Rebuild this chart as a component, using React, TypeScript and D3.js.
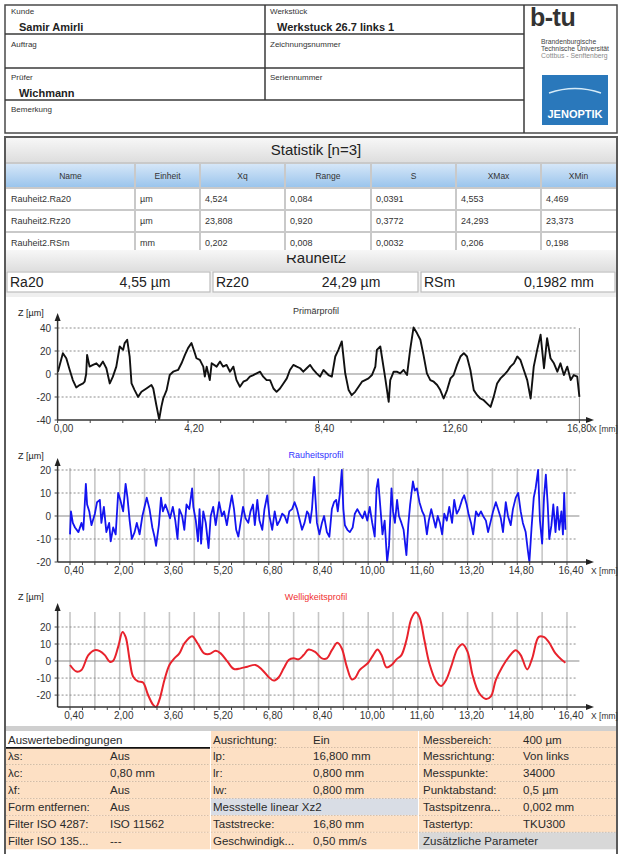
import * as React from "react";
import * as d3 from "d3";

const FONT = "'Liberation Sans', Arial, Helvetica, sans-serif";

// Kopfzeile
const headerLeftLabels = ["Kunde", "Auftrag", "Prüfer", "Bemerkung"];
const headerMidLabels = ["Werkstück", "Zeichnungsnummer", "Seriennummer"];
const customer = "Samir Amirli";
const workpiece = "Werkstuck 26.7 links 1";
const inspector = "Wichmann";
const uniLines = ["Brandenburgische", "Technische Universität", "Cottbus - Senftenberg"];

// Statistik
const statTitle = "Statistik [n=3]";
const statColumns = ["Name", "Einheit", "Xq", "Range", "S", "XMax", "XMin"];
const statRows = [
  ["Rauheit2.Ra20", "µm", "4,524", "0,084", "0,0391", "4,553", "4,469"],
  ["Rauheit2.Rz20", "µm", "23,808", "0,920", "0,3772", "24,293", "23,373"],
  ["Rauheit2.RSm", "mm", "0,202", "0,008", "0,0032", "0,206", "0,198"],
];
const resultTitle = "Rauheit2";
const paramNames = ["Ra20", "Rz20", "RSm"];
const paramValues = ["4,55 µm", "24,29 µm", "0,1982 mm"];

// Profile: [x in mm, z in µm]
const primaryProfile: [number, number][] = [
  [0.01, 2.0], [0.17, 18.1], [0.28, 13.7], [0.39, 3.5], [0.49, -5.3], [0.6, -11.7], [0.71, -9.6], [0.82, -8.2],
  [0.87, -6.7], [0.92, 0], [0.95, 16.6], [1.03, 6.4], [1.14, 7.9], [1.25, 9.3], [1.35, 6.4], [1.46, 10.8],
  [1.57, 5.0], [1.68, -8.2], [1.78, -2.3], [1.89, 6.4], [2.0, 23.9], [2.11, 21.0], [2.16, 26.9], [2.24, 29.8],
  [2.32, 15.2], [2.38, -8.2], [2.48, -14.0], [2.59, -19.9], [2.7, -15.5], [2.86, -12.6], [3.02, -9.6], [3.08, -12.6],
  [3.18, -27.2], [3.27, -39.5], [3.34, -28.6], [3.4, -21.3], [3.51, -14.0], [3.61, -0.9], [3.72, 2.0], [3.88, 3.5],
  [3.99, 9.3], [4.1, 16.6], [4.2, 22.5], [4.31, 26.9], [4.42, 18.1], [4.47, 13.7], [4.58, 12.3], [4.69, 6.4],
  [4.74, -2.3], [4.8, 6.4], [4.9, -5.3], [4.96, 9.3], [5.12, 6.4], [5.23, 10.8], [5.33, 6.4], [5.44, 7.9],
  [5.55, 2.0], [5.66, 6.4], [5.76, -5.3], [5.87, -11.1], [5.98, -6.7], [6.09, -5.3], [6.19, -2.3], [6.3, -0.9],
  [6.41, 0.6], [6.52, 2.0], [6.62, -2.3], [6.73, -5.3], [6.84, -5.3], [6.95, -12.6], [7.05, -15.5], [7.16, -12.6],
  [7.27, -8.2], [7.38, -3.8], [7.48, 3.5], [7.59, 7.9], [7.7, 6.4], [7.81, 5.0], [7.91, 2.0], [8.02, 5.0],
  [8.13, 7.9], [8.24, 3.5], [8.34, 0.6], [8.45, -2.3], [8.56, 3.5], [8.72, -0.9], [8.83, -2.3], [8.94, 15.2],
  [9.04, 21.0], [9.15, 28.3], [9.26, 0.6], [9.37, -14.0], [9.47, -18.4], [9.58, -15.5], [9.69, -11.1], [9.8, -6.7],
  [9.9, -5.3], [10.01, -3.8], [10.12, -0.9], [10.23, 6.4], [10.28, 21.0], [10.39, 23.9], [10.44, 15.2], [10.55, -3.8],
  [10.66, -24.2], [10.71, -5.3], [10.82, 2.0], [10.92, 2.0], [11.03, 0.6], [11.14, 3.5], [11.25, -0.9], [11.35, 21.0],
  [11.46, 40.5], [11.57, 35.6], [11.68, 29.8], [11.78, 16.6], [11.89, 0.6], [12.0, -5.3], [12.11, -6.7], [12.22, -9.6],
  [12.32, -14.0], [12.43, -21.3], [12.54, -14.0], [12.65, -3.8], [12.75, -0.9], [12.86, 7.9], [12.97, 15.2], [13.08, 18.1],
  [13.18, 15.2], [13.29, 3.5], [13.4, -14.0], [13.51, -18.4], [13.61, -21.3], [13.72, -22.8], [13.83, -25.7], [13.94, -28.6],
  [14.04, -19.9], [14.15, -8.2], [14.26, -3.8], [14.37, -0.9], [14.47, 2.0], [14.58, 6.4], [14.69, 9.3], [14.8, 15.2],
  [14.9, 12.3], [15.01, 3.5], [15.12, -5.3], [15.23, -21.3], [15.33, 6.4], [15.44, 21.0], [15.55, 34.2], [15.66, 5.0],
  [15.76, 31.2], [15.87, 13.7], [15.98, 9.3], [16.09, 2.0], [16.19, 9.3], [16.3, -0.9], [16.41, 6.4], [16.52, -5.3],
  [16.62, -0.9], [16.73, -2.3], [16.8, -19.9],
];

const roughnessProfile: [number, number][] = [
  [0.4, -8], [0.43, 2], [0.49, -3], [0.56, -5], [0.67, -7], [0.77, -3], [0.83, -6], [0.91, 14], [0.95, 5], [1.02, 2],
  [1.09, -4], [1.2, 1], [1.27, 6], [1.36, 7], [1.41, -3], [1.49, 4], [1.57, -7], [1.66, -3], [1.71, -11], [1.79, -5],
  [1.87, -8], [1.95, 10], [2.02, 7], [2.11, 2], [2.19, 14], [2.25, 8], [2.32, -2], [2.39, -10], [2.48, -7], [2.55, -3],
  [2.64, -8], [2.73, 0], [2.8, 4], [2.87, 8], [2.96, 3], [3.05, -5], [3.12, -9], [3.17, -13], [3.26, -4], [3.33, 8],
  [3.39, 2], [3.47, 5], [3.55, 2], [3.62, -1], [3.71, 4], [3.79, -2], [3.86, -10], [3.92, 3], [4.01, 0], [4.08, -6],
  [4.15, 5], [4.24, 3], [4.33, 12], [4.37, 4], [4.45, -2], [4.52, -11], [4.57, 3], [4.62, -12], [4.69, 2], [4.77, -3],
  [4.86, -14], [4.93, 0], [5.01, 4], [5.09, -4], [5.2, 6], [5.29, 0], [5.36, 2], [5.45, -4], [5.52, 2], [5.61, 9],
  [5.68, 3], [5.75, -6], [5.82, -9], [5.89, -3], [5.97, 4], [6.05, -1], [6.14, -3], [6.21, 2], [6.29, 5], [6.35, -4],
  [6.43, 7], [6.5, -2], [6.59, -6], [6.66, 3], [6.75, 9], [6.82, 0], [6.91, -6], [6.99, 2], [7.07, -4], [7.15, -2],
  [7.23, 1], [7.31, 0], [7.39, -3], [7.46, 2], [7.55, 3], [7.63, 6], [7.71, 3], [7.78, -1], [7.87, -6], [7.95, -3],
  [8.03, 2], [8.08, 1], [8.13, -3], [8.19, 3], [8.26, 17], [8.35, -3], [8.43, -8], [8.51, -3], [8.58, 0], [8.67, -7],
  [8.75, -9], [8.83, 3], [8.9, 6], [8.97, 7], [9.02, 2], [9.09, 10], [9.15, 20], [9.2, 3], [9.25, -4], [9.33, -6],
  [9.41, -7], [9.5, -5], [9.57, 1], [9.65, 3], [9.73, 1], [9.82, -1], [9.89, 2], [9.97, -2], [10.05, 4], [10.13, -3],
  [10.21, -9], [10.27, 12], [10.32, 16], [10.39, 4], [10.46, -8], [10.53, -2], [10.61, -20], [10.67, -13], [10.75, 12], [10.8, 2],
  [10.86, -3], [10.93, 7], [10.99, 0], [11.07, -3], [11.14, -6], [11.23, -17], [11.29, -4], [11.35, 5], [11.44, 15], [11.5, 11],
  [11.57, 12], [11.65, 6], [11.74, 2], [11.81, 0], [11.89, -8], [11.95, -2], [12.03, 3], [12.1, -1], [12.17, -5], [12.24, 0],
  [12.31, -3], [12.38, -8], [12.45, 1], [12.53, -2], [12.61, 4], [12.7, -3], [12.77, 7], [12.85, 1], [12.93, 3], [13.02, 7],
  [13.09, 9], [13.17, 5], [13.23, 1], [13.31, -3], [13.38, -8], [13.47, 2], [13.55, 0], [13.63, 2], [13.7, 0], [13.79, -2],
  [13.86, -7], [13.95, -2], [14.02, 2], [14.11, 6], [14.18, 3], [14.27, -1], [14.34, -7], [14.43, 6], [14.5, 0], [14.59, -4],
  [14.66, 3], [14.75, 8], [14.83, 10], [14.91, 2], [14.98, -3], [15.07, -7], [15.14, -15], [15.19, -20], [15.26, -5], [15.33, 8],
  [15.39, 12], [15.47, 20], [15.53, -2], [15.6, -12], [15.66, 8], [15.72, 18], [15.78, 5], [15.83, -10], [15.9, -4], [15.96, 5],
  [16.03, -7], [16.09, 4], [16.15, -6], [16.22, 2], [16.27, -8], [16.31, 10], [16.35, -6],
];

const wavinessProfile: [number, number][] = [
  [0.4, -2.3], [0.61, -6.2], [0.77, -5.2], [0.99, 3.5], [1.2, 6.4], [1.36, 5.8], [1.52, 3.5], [1.68, -0.4],
  [1.79, 0.2], [1.95, 8.3], [2.09, 17.1], [2.19, 14.2], [2.32, 0.6], [2.43, -9.1], [2.59, -12.0], [2.75, -12.6],
  [2.91, -19.8], [3.07, -25.6], [3.17, -27.0], [3.28, -22.7], [3.44, -11.1], [3.6, -2.3], [3.76, 1.6], [3.92, 4.5],
  [4.08, 10.3], [4.33, 14.6], [4.51, 10.3], [4.72, 4.5], [4.88, 4.1], [5.09, 6.0], [5.25, 4.5], [5.47, -0.4],
  [5.68, -4.7], [5.89, -4.3], [6.11, -3.3], [6.37, -2.3], [6.59, -5.2], [6.8, -9.5], [6.96, -11.5], [7.12, -9.5],
  [7.28, -4.3], [7.44, 0.6], [7.6, 1.6], [7.76, 1.0], [7.92, 3.5], [8.08, 6.8], [8.29, 5.4], [8.51, 1.6],
  [8.67, 1.6], [8.83, 6.4], [9.01, 10.7], [9.15, 7.4], [9.31, -3.3], [9.47, -10.7], [9.57, -10.1], [9.73, -5.2],
  [10.0, -1.0], [10.16, 3.5], [10.3, 6.8], [10.43, 3.5], [10.59, -3.7], [10.75, -2.3], [10.91, 1.0], [11.07, 3.5],
  [11.23, 12.2], [11.39, 24.9], [11.53, 28.7], [11.65, 25.8], [11.81, 12.2], [11.97, -1.4], [12.19, -12.0], [12.35, -14.6],
  [12.51, -11.1], [12.67, -3.3], [12.88, 7.4], [13.04, 9.9], [13.2, 5.4], [13.36, -8.2], [13.57, -18.8], [13.79, -22.3],
  [13.95, -20.8], [14.11, -11.1], [14.32, -3.3], [14.53, 2.5], [14.75, 6.4], [14.91, 3.5], [15.12, -4.9], [15.28, 1.6],
  [15.49, 14.2], [15.65, 14.2], [15.81, 11.3], [16.03, 4.5], [16.24, 0.6], [16.35, -1.0],
];

const primaryTicks = [0, 4.2, 8.4, 12.6, 16.8];
const filterTicks = [0.4, 2.0, 3.6, 5.2, 6.8, 8.4, 10.0, 11.6, 13.2, 14.8, 16.4];
const filterGrid = [0.4, 1.2, 2.0, 2.8, 3.6, 4.4, 5.2, 6.0, 6.8, 7.6, 8.4, 9.2, 10.0, 10.8, 11.6, 12.4, 13.2, 14.0, 14.8, 15.6, 16.4];
const primaryYTicks = [40, 20, 0, -20, -40];
const roughYTicks = [20, 10, 0, -10, -20];
const waveYTicks = [20, 10, 0, -10, -20];

// Auswertebedingungen
const condRows = [
  ["Auswertebedingungen", "", "Ausrichtung:", "Ein", "Messbereich:", "400 µm"],
  ["λs:", "Aus", "lp:", "16,800 mm", "Messrichtung:", "Von links"],
  ["λc:", "0,80 mm", "lr:", "0,800 mm", "Messpunkte:", "34000"],
  ["λf:", "Aus", "lw:", "0,800 mm", "Punktabstand:", "0,5 µm"],
  ["Form entfernen:", "Aus", "Messstelle linear Xz2", "", "Tastspitzenra...", "0,002 mm"],
  ["Filter ISO 4287:", "ISO 11562", "Taststrecke:", "16,80 mm", "Tastertyp:", "TKU300"],
  ["Filter ISO 135...", "---", "Geschwindigk...", "0,50 mm/s", "Zusätzliche Parameter", ""],
];

const fmt = (v: number) => d3.format(".2f")(v).replace(".", ",");

interface ChartSpec {
  data: [number, number][];
  color: string;
  width: number;
  smooth: boolean;
  title: string;
  titleColor: string;
  titleY: number;
  arrowTop: number;
  zLabelY: number;
  yDomain: [number, number];
  yRange: [number, number];
  yTicks: number[];
  dashed: number[];
  labels: number[];
  labelShift: number;
  grid: number[] | null;
  gridTop: number;
  minor: number[];
  rightLine: boolean;
}

function drawChart(svg: d3.Selection<SVGSVGElement, unknown, null, undefined>, s: ChartSpec) {
  const x = d3.scaleLinear([0, 16.8], [57.6, 579.4]);
  const y = d3.scaleLinear(s.yDomain, s.yRange);
  const axisY = s.yRange[0];
  const x0 = x(0);
  const g = svg.append("g").attr("font-family", FONT);

  if (s.grid) {
    g.selectAll(".vgrid")
      .data(s.grid)
      .join("line")
      .attr("class", "vgrid")
      .attr("x1", (d) => x(d))
      .attr("x2", (d) => x(d))
      .attr("y1", s.gridTop)
      .attr("y2", axisY)
      .attr("stroke", "#c6c6c6")
      .attr("stroke-width", 1.6);
  }
  g.selectAll(".hgrid")
    .data(s.dashed)
    .join("line")
    .attr("class", "hgrid")
    .attr("x1", x0)
    .attr("x2", x(16.8) - 2)
    .attr("y1", (d) => y(d))
    .attr("y2", (d) => y(d))
    .attr("stroke", "#8c8c8c")
    .attr("stroke-width", 1)
    .attr("stroke-dasharray", "2,2");
  g.append("line")
    .attr("x1", x0)
    .attr("x2", x(16.8))
    .attr("y1", y(0))
    .attr("y2", y(0))
    .attr("stroke", "#8a8a8a")
    .attr("stroke-width", 1.1);
  if (s.rightLine) {
    g.append("line")
      .attr("x1", x(16.8))
      .attr("x2", x(16.8))
      .attr("y1", y(s.yDomain[1]))
      .attr("y2", axisY)
      .attr("stroke", "#9a9a9a")
      .attr("stroke-width", 1);
  }

  // Profil
  const line = d3
    .line<[number, number]>()
    .x((d) => x(d[0]))
    .y((d) => y(d[1]))
    .curve(s.smooth ? d3.curveCatmullRom.alpha(0.5) : d3.curveLinear);
  g.append("path")
    .datum(s.data)
    .attr("d", line)
    .attr("fill", "none")
    .attr("stroke", s.color)
    .attr("stroke-width", s.width)
    .attr("stroke-linejoin", "round");

  // Achsen
  g.append("line")
    .attr("x1", x0)
    .attr("x2", 588)
    .attr("y1", axisY)
    .attr("y2", axisY)
    .attr("stroke", "#333")
    .attr("stroke-width", 1.5);
  g.append("path")
    .attr("d", `M594,${axisY}L586,${axisY - 3}L586,${axisY + 3}Z`)
    .attr("fill", "#222");
  g.append("line")
    .attr("x1", x0)
    .attr("x2", x0)
    .attr("y1", s.arrowTop + 6)
    .attr("y2", axisY)
    .attr("stroke", "#333")
    .attr("stroke-width", 1.5);
  g.append("path")
    .attr("d", `M${x0},${s.arrowTop}L${x0 - 3},${s.arrowTop + 8}L${x0 + 3},${s.arrowTop + 8}Z`)
    .attr("fill", "#222");

  g.selectAll(".minor")
    .data(s.minor)
    .join("line")
    .attr("class", "minor")
    .attr("x1", (d) => x(d))
    .attr("x2", (d) => x(d))
    .attr("y1", axisY)
    .attr("y2", axisY + 3)
    .attr("stroke", "#444")
    .attr("stroke-width", 1);

  g.selectAll(".ytick")
    .data(s.yTicks)
    .join("line")
    .attr("class", "ytick")
    .attr("x1", x0 - 3)
    .attr("x2", x0)
    .attr("y1", (d) => y(d))
    .attr("y2", (d) => y(d))
    .attr("stroke", "#444");
  g.selectAll(".ylab")
    .data(s.yTicks)
    .join("text")
    .attr("class", "ylab")
    .attr("x", 51)
    .attr("y", (d) => y(d) + 3.5)
    .attr("text-anchor", "end")
    .attr("font-size", 10)
    .attr("fill", "#333")
    .text((d) => String(d));

  g.selectAll(".xlab")
    .data(s.labels)
    .join("text")
    .attr("class", "xlab")
    .attr("x", (d) => x(d) + (d === 16.8 ? 0 : s.labelShift))
    .attr("y", axisY + 12)
    .attr("text-anchor", "middle")
    .attr("font-size", 10)
    .attr("fill", "#333")
    .text((d) => fmt(d));
  g.append("text")
    .attr("x", 591)
    .attr("y", axisY + 12)
    .attr("font-size", 8.5)
    .attr("fill", "#333")
    .text("X [mm]");

  g.append("text")
    .attr("x", 18)
    .attr("y", s.zLabelY)
    .attr("font-size", 9)
    .attr("fill", "#222")
    .text("Z [µm]");
  g.append("text")
    .attr("x", 316)
    .attr("y", s.titleY)
    .attr("text-anchor", "middle")
    .attr("font-size", 9)
    .attr("fill", s.titleColor)
    .text(s.title);
}

export default function App() {
  const ref = React.useRef<SVGSVGElement | null>(null);
  React.useEffect(() => {
    const svg = d3.select(ref.current as SVGSVGElement);
    svg.selectAll("*").remove();
    svg.attr("font-family", FONT);

    const defs = svg.append("defs");
    const blue = defs.append("linearGradient").attr("id", "hdrBlue").attr("x1", 0).attr("x2", 0).attr("y1", 0).attr("y2", 1);
    blue.append("stop").attr("offset", "0%").attr("stop-color", "#d8e8f8");
    blue.append("stop").attr("offset", "100%").attr("stop-color", "#98c3ec");
    const grey = defs.append("linearGradient").attr("id", "barGrey").attr("x1", 0).attr("x2", 0).attr("y1", 0).attr("y2", 1);
    grey.append("stop").attr("offset", "0%").attr("stop-color", "#f7f7f7");
    grey.append("stop").attr("offset", "100%").attr("stop-color", "#dedede");
    defs.append("clipPath").attr("id", "resClip").append("rect").attr("x", 0).attr("y", 255).attr("width", 620).attr("height", 16);

    svg.append("rect").attr("width", 620).attr("height", 854).attr("fill", "#fff");

    // ---------- Kopf ----------
    const head = svg.append("g");
    head.append("rect").attr("x", 5).attr("y", 5).attr("width", 612).attr("height", 128)
      .attr("fill", "#fff").attr("stroke", "#4a4a4a").attr("stroke-width", 1.5);
    const headLines = [
      [5, 34, 524, 34], [5, 68, 524, 68], [5, 100, 524, 100], [265, 5, 265, 100], [524, 5, 524, 133],
    ];
    head.selectAll(".hl").data(headLines).join("line").attr("class", "hl")
      .attr("x1", (d) => d[0]).attr("y1", (d) => d[1]).attr("x2", (d) => d[2]).attr("y2", (d) => d[3])
      .attr("stroke", "#3a3a3a").attr("stroke-width", 1.5);
    const leftY = [14, 47, 80, 112];
    head.selectAll(".ll").data(headerLeftLabels).join("text").attr("class", "ll")
      .attr("x", 11).attr("y", (_, i) => leftY[i]).attr("font-size", 8).attr("fill", "#333").text((d) => d);
    const midY = [14, 47, 80];
    head.selectAll(".ml").data(headerMidLabels).join("text").attr("class", "ml")
      .attr("x", 270).attr("y", (_, i) => midY[i]).attr("font-size", 8).attr("fill", "#333").text((d) => d);
    head.append("text").attr("x", 19).attr("y", 31).attr("font-size", 11).attr("font-weight", 700).attr("fill", "#222").text(customer);
    head.append("text").attr("x", 277).attr("y", 31).attr("font-size", 11).attr("font-weight", 700).attr("fill", "#222").text(workpiece);
    head.append("text").attr("x", 19).attr("y", 97).attr("font-size", 11).attr("font-weight", 700).attr("fill", "#222").text(inspector);

    // Logos
    head.append("text").attr("x", 530).attr("y", 26).attr("font-size", 25).attr("font-weight", 700)
      .attr("fill", "#333").attr("letter-spacing", -0.5).text("b-tu");
    head.selectAll(".uni").data(uniLines).join("text").attr("class", "uni")
      .attr("x", 541).attr("y", (_, i) => 44 + i * 7).attr("font-size", 6.8)
      .attr("fill", (_, i) => (i === 2 ? "#8a8a8a" : "#444")).text((d) => d);
    head.append("rect").attr("x", 542).attr("y", 75).attr("width", 66).attr("height", 50).attr("fill", "#2a78bb");
    head.append("path").attr("d", "M549,93 Q575,84 601,93").attr("fill", "none").attr("stroke", "#d6ebf8").attr("stroke-width", 1.4);
    head.append("text").attr("x", 575).attr("y", 118).attr("text-anchor", "middle").attr("font-size", 11)
      .attr("font-weight", 700).attr("fill", "#fff").text("JENOPTIK");

    // ---------- Rahmen unten ----------
    svg.append("rect").attr("x", 5).attr("y", 137).attr("width", 612).attr("height", 720)
      .attr("fill", "#fff").attr("stroke", "#5a5a5a").attr("stroke-width", 2);

    // ---------- Statistik ----------
    const st = svg.append("g");
    st.append("rect").attr("x", 6).attr("y", 138).attr("width", 610).attr("height", 24).attr("fill", "url(#barGrey)");
    st.append("text").attr("x", 316).attr("y", 155).attr("text-anchor", "middle").attr("font-size", 15)
      .attr("fill", "#222").text(statTitle);

    const colEdges = [6, 135, 200, 285, 371, 456, 541, 616];
    const rowEdges = [163, 188, 210, 232, 254];
    st.append("rect").attr("x", 6).attr("y", rowEdges[0]).attr("width", 610).attr("height", rowEdges[1] - rowEdges[0]).attr("fill", "url(#hdrBlue)");
    st.selectAll(".hdr").data(statColumns).join("text").attr("class", "hdr")
      .attr("x", (_, i) => (colEdges[i] + colEdges[i + 1]) / 2).attr("y", 179).attr("text-anchor", "middle")
      .attr("font-size", 8.5).attr("fill", "#333").text((d) => d);
    statRows.forEach((row, r) => {
      st.selectAll(`.cell${r}`).data(row).join("text").attr("class", `cell${r}`)
        .attr("x", (_, i) => colEdges[i] + 5).attr("y", (rowEdges[r + 1] + rowEdges[r + 2]) / 2 + 2.5)
        .attr("font-size", 9).attr("fill", "#333").text((d) => d);
    });
    st.selectAll(".rl").data(rowEdges).join("line").attr("class", "rl")
      .attr("x1", 6).attr("x2", 616).attr("y1", (d) => d).attr("y2", (d) => d)
      .attr("stroke", "#c9c9c9").attr("stroke-width", 2);
    st.selectAll(".cl").data(colEdges.slice(1, -1)).join("line").attr("class", "cl")
      .attr("x1", (d) => d).attr("x2", (d) => d).attr("y1", rowEdges[0]).attr("y2", rowEdges[4])
      .attr("stroke", "#c9c9c9").attr("stroke-width", 2);

    // Rauheit2 (oben vom Tabellenende verdeckt)
    st.append("rect").attr("x", 6).attr("y", 250).attr("width", 610).attr("height", 21).attr("fill", "url(#barGrey)");
    st.append("text").attr("x", 316).attr("y", 263).attr("text-anchor", "middle").attr("font-size", 15)
      .attr("fill", "#222").attr("clip-path", "url(#resClip)").text(resultTitle);
    st.append("rect").attr("x", 6).attr("y", 271).attr("width", 610).attr("height", 26).attr("fill", "#efefef");
    const boxX = [7, 213, 421];
    const boxW = [203, 205, 194];
    paramNames.forEach((name, i) => {
      st.append("rect").attr("x", boxX[i]).attr("y", 272).attr("width", boxW[i]).attr("height", 20)
        .attr("fill", "#fff").attr("stroke", "#bdbdbd").attr("stroke-width", 1.2);
      st.append("text").attr("x", boxX[i] + 3).attr("y", 287).attr("font-size", 14).attr("fill", "#222").text(name);
      st.append("text").attr("x", boxX[i] + 138).attr("y", 287).attr("text-anchor", "middle").attr("font-size", 14)
        .attr("fill", "#222").text(paramValues[i]);
    });

    // ---------- Profile ----------
    drawChart(svg, {
      data: primaryProfile, color: "#111", width: 1.9, smooth: false,
      title: "Primärprofil", titleColor: "#333", titleY: 314, arrowTop: 313, zLabelY: 316,
      yDomain: [-40, 40], yRange: [420, 328], yTicks: primaryYTicks, dashed: [40, 20, -20],
      labels: primaryTicks, labelShift: 6, grid: null, gridTop: 0,
      minor: d3.range(0, 16.81, 1.05), rightLine: true,
    });
    drawChart(svg, {
      data: roughnessProfile, color: "#1414f0", width: 1.8, smooth: false,
      title: "Rauheitsprofil", titleColor: "#3333ff", titleY: 458, arrowTop: 458, zLabelY: 459,
      yDomain: [-20, 20], yRange: [562, 470], yTicks: roughYTicks, dashed: [20, 10, -10],
      labels: filterTicks, labelShift: 4, grid: filterGrid, gridTop: 468,
      minor: d3.range(0.4, 16.41, 0.4), rightLine: false,
    });
    drawChart(svg, {
      data: wavinessProfile, color: "#e8222c", width: 2, smooth: true,
      title: "Welligkeitsprofil", titleColor: "#f03030", titleY: 600, arrowTop: 603, zLabelY: 600,
      yDomain: [-27, 20], yRange: [707, 627], yTicks: waveYTicks, dashed: [20, 10, -10, -20],
      labels: filterTicks, labelShift: 4, grid: filterGrid, gridTop: 612,
      minor: d3.range(0.4, 16.41, 0.4), rightLine: false,
    });

    // ---------- Auswertebedingungen ----------
    const ct = svg.append("g");
    ct.append("rect").attr("x", 6).attr("y", 726).attr("width", 610).attr("height", 5).attr("fill", "#cfcfcf");
    const groups = [[6, 210], [211, 418], [419, 616]];
    const textX = [8, 110, 213, 313, 423, 523];
    const rowH = 16.9;
    condRows.forEach((row, r) => {
      const top = 731 + r * rowH;
      groups.forEach((gx, gi) => {
        let fill = "#fde0c4";
        if (r === 0 && gi === 0) fill = "#fff";
        if (r === 4 && gi === 1) fill = "#d9dde5";
        if (r === 6 && gi === 2) fill = "#d8d8d8";
        ct.append("rect").attr("x", gx[0]).attr("y", top).attr("width", gx[1] - gx[0]).attr("height", rowH).attr("fill", fill);
        if (r < condRows.length - 1 && !(r === 0 && gi === 0)) {
          ct.append("line").attr("x1", gx[0]).attr("x2", gx[1]).attr("y1", top + rowH).attr("y2", top + rowH)
            .attr("stroke", "#a08c78").attr("stroke-width", 0.8).attr("stroke-dasharray", "1.5,1.5");
        }
      });
      row.forEach((cell, ci) => {
        if (!cell) return;
        ct.append("text").attr("x", textX[ci]).attr("y", top + 12.5).attr("font-size", 11.5)
          .attr("fill", "#2a2a2a").text(cell);
      });
    });
    ct.append("line").attr("x1", 6).attr("x2", 210).attr("y1", 731 + rowH).attr("y2", 731 + rowH)
      .attr("stroke", "#111").attr("stroke-width", 1.8);
  }, []);

  return (
    <svg
      ref={ref}
      width={620}
      height={854}
      style={{ position: "absolute", left: 0, top: 0, display: "block" }}
    />
  );
}
